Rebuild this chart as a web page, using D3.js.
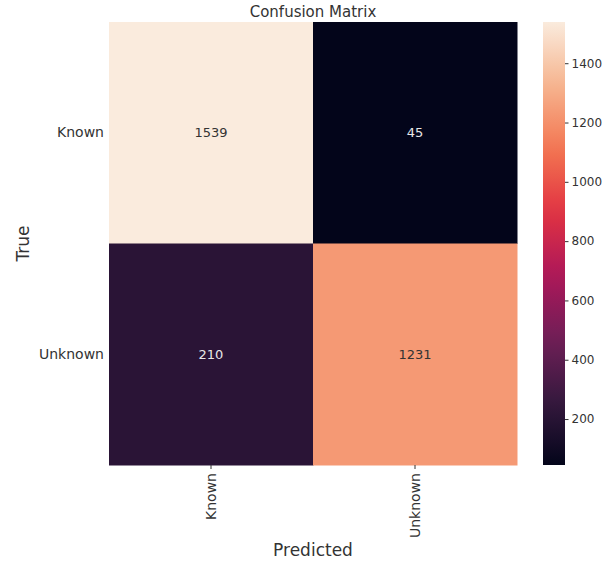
<!DOCTYPE html>
<html>
<head>
<meta charset="UTF-8">
<title>Confusion Matrix</title>
<script src="https://d3js.org/d3.v7.min.js"></script>
<style>
  body { margin: 0; background: #fff; }
  text { font-family: "DejaVu Sans", sans-serif; fill: #333; }
</style>
</head>
<body>
<svg width="608" height="562"></svg>
<script>
const labels = ["Known", "Unknown"];
const matrix = [
  [1539, 45],
  [210, 1231]
];
const cbarTicks = [200, 400, 600, 800, 1000, 1200, 1400];

// rocket colormap stops
const rocketStops = ["#03051a", "#35193e", "#701f57", "#ad1759", "#e13342", "#f37651", "#f6b48f", "#faebdd"];
const rocket = d3.scaleLinear()
    .domain(d3.range(rocketStops.length).map(i => i / (rocketStops.length - 1)))
    .range(rocketStops)
    .interpolate(d3.interpolateRgb);

const svg = d3.select("svg");
const mLeft = 109, mRight = 517, mTop = 22, mBottom = 465;

const cells = [];
matrix.forEach((row, i) => row.forEach((v, j) => cells.push({row: labels[i], col: labels[j], v})));
const vmin = d3.min(cells, d => d.v), vmax = d3.max(cells, d => d.v);
const norm = d3.scaleLinear().domain([vmin, vmax]).range([0, 1]);

const x = d3.scaleBand().domain(labels).range([mLeft, mRight]);
const y = d3.scaleBand().domain(labels).range([mTop, mBottom]);

svg.selectAll("rect.cell").data(cells).join("rect")
    .attr("class", "cell")
    .attr("x", d => x(d.col))
    .attr("y", d => y(d.row))
    .attr("width", x.bandwidth() + 0.5)
    .attr("height", y.bandwidth() + 0.5)
    .attr("fill", d => rocket(norm(d.v)));

svg.selectAll("text.annot").data(cells).join("text")
    .attr("class", "annot")
    .attr("x", d => x(d.col) + x.bandwidth() / 2)
    .attr("y", d => y(d.row) + y.bandwidth() / 2)
    .attr("text-anchor", "middle")
    .attr("dominant-baseline", "central")
    .attr("font-size", 13)
    .style("fill", d => norm(d.v) > 0.5 ? "#333" : "#e8e8e8")
    .text(d => d.v);

// axes
const yAxis = svg.append("g")
    .attr("transform", `translate(${mLeft},0)`)
    .call(d3.axisLeft(y).tickSize(0).tickPadding(5));
yAxis.select(".domain").remove();
yAxis.selectAll("text").attr("font-size", 14).style("font-family", "DejaVu Sans").style("fill", "#333");

const xAxis = svg.append("g")
    .attr("transform", `translate(0,${mBottom})`)
    .call(d3.axisBottom(x).tickSize(4).tickPadding(5));
xAxis.select(".domain").remove();
xAxis.selectAll("line").attr("stroke", "#333");
xAxis.selectAll("text")
    .attr("font-size", 14).style("font-family", "DejaVu Sans").style("fill", "#333")
    .attr("transform", "rotate(-90)")
    .attr("text-anchor", "end")
    .attr("x", -8)
    .attr("y", 0)
    .attr("dy", "0.35em");

// titles
svg.append("text").attr("x", (mLeft + mRight) / 2).attr("y", 17)
    .attr("text-anchor", "middle").attr("font-size", 15).text("Confusion Matrix");
svg.append("text").attr("x", (mLeft + mRight) / 2).attr("y", 556)
    .attr("text-anchor", "middle").attr("font-size", 17).text("Predicted");
svg.append("text")
    .attr("transform", `translate(29,${(mTop + mBottom) / 2}) rotate(-90)`)
    .attr("text-anchor", "middle").attr("font-size", 17).text("True");

// colorbar
const cbX = 543, cbW = 22;
const cb = d3.scaleLinear().domain([vmin, vmax]).range([mBottom, mTop]);
const defs = svg.append("defs");
const grad = defs.append("linearGradient").attr("id", "cbgrad")
    .attr("x1", 0).attr("y1", 1).attr("x2", 0).attr("y2", 0);
grad.selectAll("stop").data(d3.range(0, 1.0001, 0.05)).join("stop")
    .attr("offset", d => d)
    .attr("stop-color", d => rocket(d));
svg.append("rect").attr("x", cbX).attr("y", mTop).attr("width", cbW).attr("height", mBottom - mTop)
    .attr("fill", "url(#cbgrad)");
const cAxis = svg.append("g")
    .attr("transform", `translate(${cbX + cbW},0)`)
    .call(d3.axisRight(cb).tickValues(cbarTicks).tickFormat(d3.format("d")).tickSize(3.5).tickPadding(3));
cAxis.select(".domain").remove();
cAxis.selectAll("line").attr("stroke", "#333");
cAxis.selectAll("text").attr("font-size", 12).style("font-family", "DejaVu Sans").style("fill", "#333");
</script>
</body>
</html>
